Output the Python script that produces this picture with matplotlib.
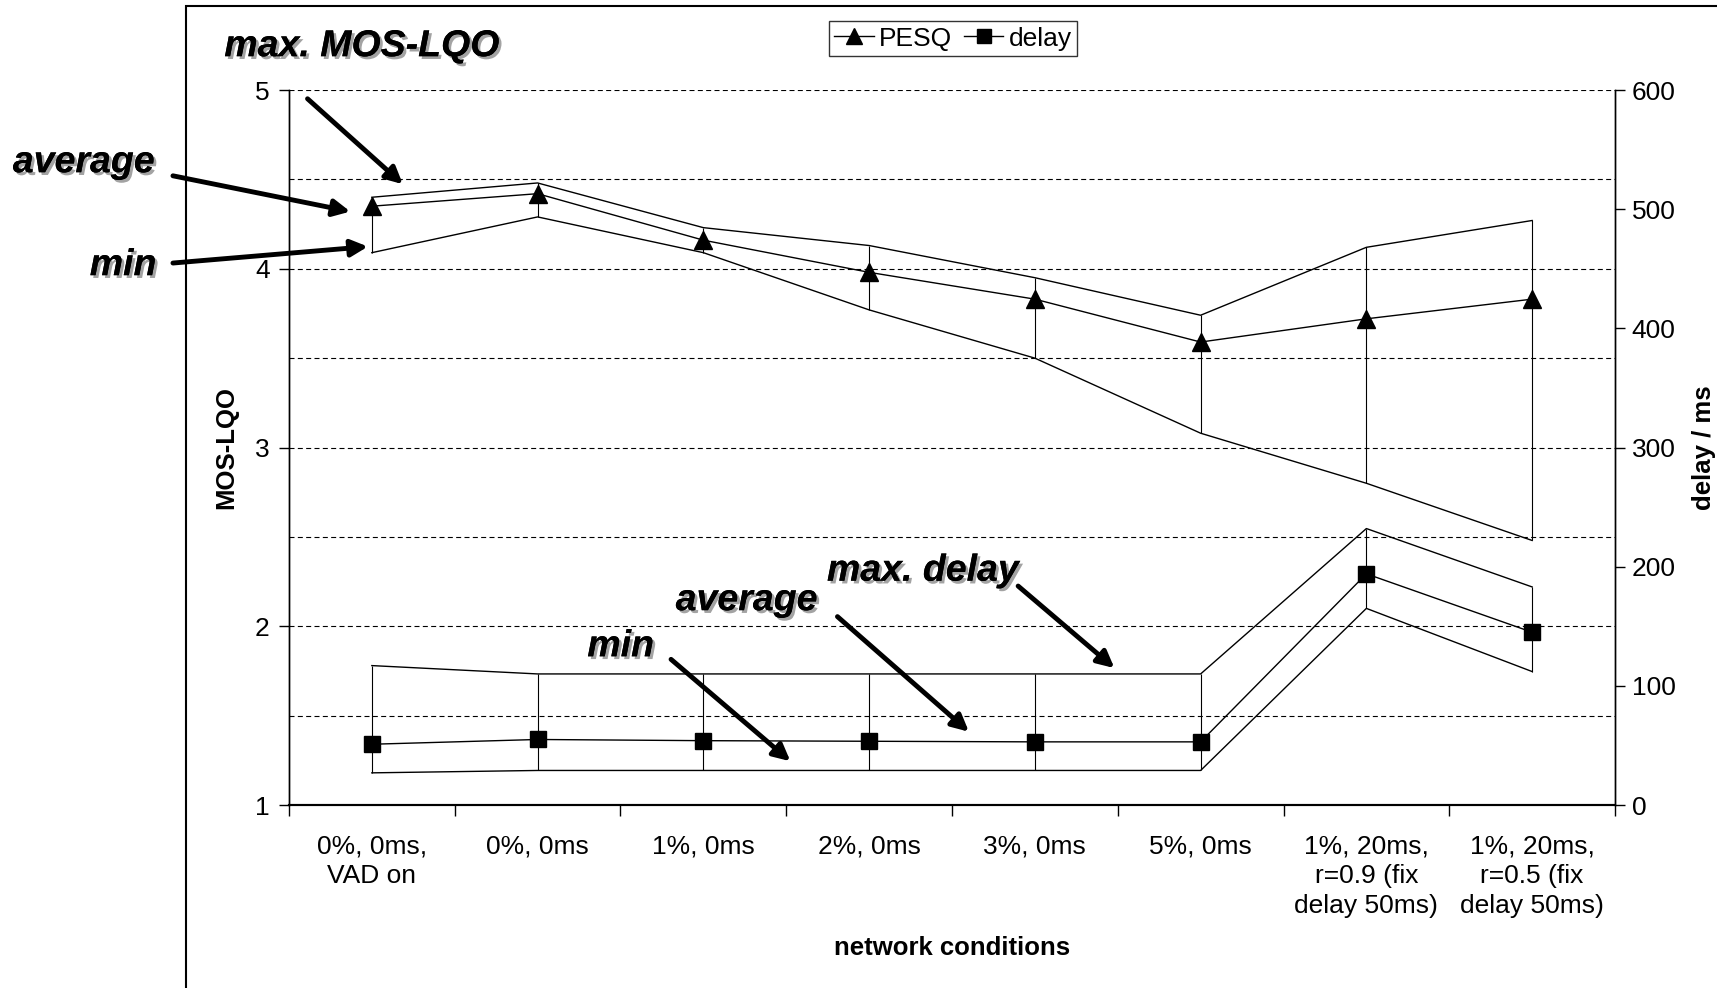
import numpy as np
import matplotlib
matplotlib.use("Agg")
import matplotlib.pyplot as plt
import matplotlib.patheffects as pe
from matplotlib.patches import Rectangle

plt.rcParams['font.family'] = ['Liberation Sans', 'DejaVu Sans']

# === DATA ===
conditions = ["0%, 0ms,\nVAD on", "0%, 0ms", "1%, 0ms", "2%, 0ms", "3%, 0ms", "5%, 0ms",
              "1%, 20ms,\nr=0.9 (fix\ndelay 50ms)", "1%, 20ms,\nr=0.5 (fix\ndelay 50ms)"]

pesq_max = [4.40, 4.48, 4.23, 4.13, 3.95, 3.74, 4.12, 4.27]
pesq_avg = [4.35, 4.42, 4.16, 3.98, 3.83, 3.59, 3.72, 3.83]
pesq_min = [4.09, 4.29, 4.09, 3.77, 3.50, 3.08, 2.80, 2.48]

delay_max = [117, 110, 110, 110, 110, 110, 232, 183]
delay_avg = [51, 55, 54, 53.5, 53, 53, 194, 145]
delay_min = [27, 29, 29, 29, 29, 29, 165, 112]

x = np.arange(len(conditions))

# === FIGURE ===
fig = plt.figure(figsize=(17.17, 9.88), dpi=100)
ax = fig.add_axes([0.1683, 0.1852, 0.7723, 0.7237])
ax2 = ax.twinx()

# outer chart frame (runs off the right and bottom edge)
fig.patches.append(Rectangle((0.1085, -0.05), 1.0, 1.0444, transform=fig.transFigure,
                             fill=False, edgecolor='black', linewidth=1.5))

# grid
for g in np.arange(1.5, 5.01, 0.5):
    ax.axhline(g, color='black', linestyle=(0, (4.5, 3)), linewidth=0.8, zorder=0)

# PESQ
ax.plot(x, pesq_max, color='black', linewidth=1)
ax.plot(x, pesq_min, color='black', linewidth=1)
ax.vlines(x, pesq_min, pesq_max, color='black', linewidth=0.8)
ax.plot(x, pesq_avg, color='black', linewidth=1, marker='^', markersize=13, label='PESQ')

# delay
ax2.plot(x, delay_max, color='black', linewidth=1)
ax2.plot(x, delay_min, color='black', linewidth=1)
ax2.vlines(x, delay_min, delay_max, color='black', linewidth=0.8)
ax2.plot(x, delay_avg, color='black', linewidth=1, marker='s', markersize=12, label='delay')

# axes
ax.set_xlim(-0.5, len(conditions) - 0.5)
ax.set_ylim(1, 5)
ax2.set_ylim(0, 600)
ax.set_yticks([1, 2, 3, 4, 5])
ax2.set_yticks(np.arange(0, 601, 100))
ax.set_xticks(x)
ax.set_xticklabels(conditions)
for lab in ax.get_xticklabels():
    lab.set_linespacing(1.3)
ax.set_xticks(np.arange(-0.5, len(conditions)), minor=True)
ax.tick_params(axis='x', which='major', length=0, pad=21, labelsize=19)
ax.tick_params(axis='x', which='minor', length=8, width=1, direction='out')
ax.tick_params(axis='y', length=7, width=1, pad=7, labelsize=19)
ax2.tick_params(axis='y', length=7, width=1, pad=5, labelsize=19)

for a in (ax, ax2):
    a.spines['top'].set_visible(False)
    a.spines['bottom'].set_linewidth(1.5)
    a.spines['left'].set_linewidth(1)
    a.spines['right'].set_linewidth(1)

ax.set_ylabel("MOS-LQO", fontsize=18.5, fontweight='bold', labelpad=12)
ax2.set_ylabel("delay / ms", fontsize=18.5, fontweight='bold', rotation=90, labelpad=12)
ax.set_xlabel("network conditions", fontsize=18.5, fontweight='bold', labelpad=13)

# legend
h1, l1 = ax.get_legend_handles_labels()
h2, l2 = ax2.get_legend_handles_labels()
leg = fig.legend(h1 + h2, l1 + l2, loc='center', bbox_to_anchor=(0.555, 0.961), ncol=2,
                 fontsize=19, frameon=True, fancybox=False, edgecolor='black',
                 handlelength=1.5, handletextpad=0.2, columnspacing=0.45,
                 borderpad=0.2, markerscale=0.85)
leg.get_frame().set_linewidth(1)

# === ANNOTATIONS ===
shadow = [pe.withSimplePatchShadow(offset=(2, -2), shadow_rgbFace='0.55', alpha=0.8), pe.Normal()]
txt = dict(fontsize=27, fontweight='bold', fontstyle='italic', color='black',
           path_effects=shadow, clip_on=False)
arrow = dict(arrowstyle='-|>,head_length=1.0,head_width=0.5', color='black', lw=3.5,
             shrinkA=0, shrinkB=0)

ax.text(-0.89, 5.245, "max. MOS-LQO", ha='left', va='center', **txt)
ax.text(-1.31, 4.596, "average", ha='right', va='center', **txt)
ax.text(-1.30, 4.02, "min", ha='right', va='center', **txt)
ax.text(3.324, 2.311, "max. delay", ha='center', va='center', **txt)
ax.text(2.261, 2.146, "average", ha='center', va='center', **txt)
ax.text(1.501, 1.888, "min", ha='center', va='center', **txt)

arrows = [((-0.388, 4.951), (0.187, 4.473)),
          ((-1.20, 4.52), (-0.13, 4.32)),
          ((-1.20, 4.032), (-0.024, 4.124)),
          ((3.899, 2.225), (4.48, 1.766)),
          ((2.809, 2.054), (3.602, 1.410)),
          ((1.805, 1.815), (2.525, 1.245))]
for tail, tip in arrows:
    ax.annotate("", xy=tip, xytext=tail, arrowprops=arrow, annotation_clip=False)

fig.savefig("out.png", dpi=100)
